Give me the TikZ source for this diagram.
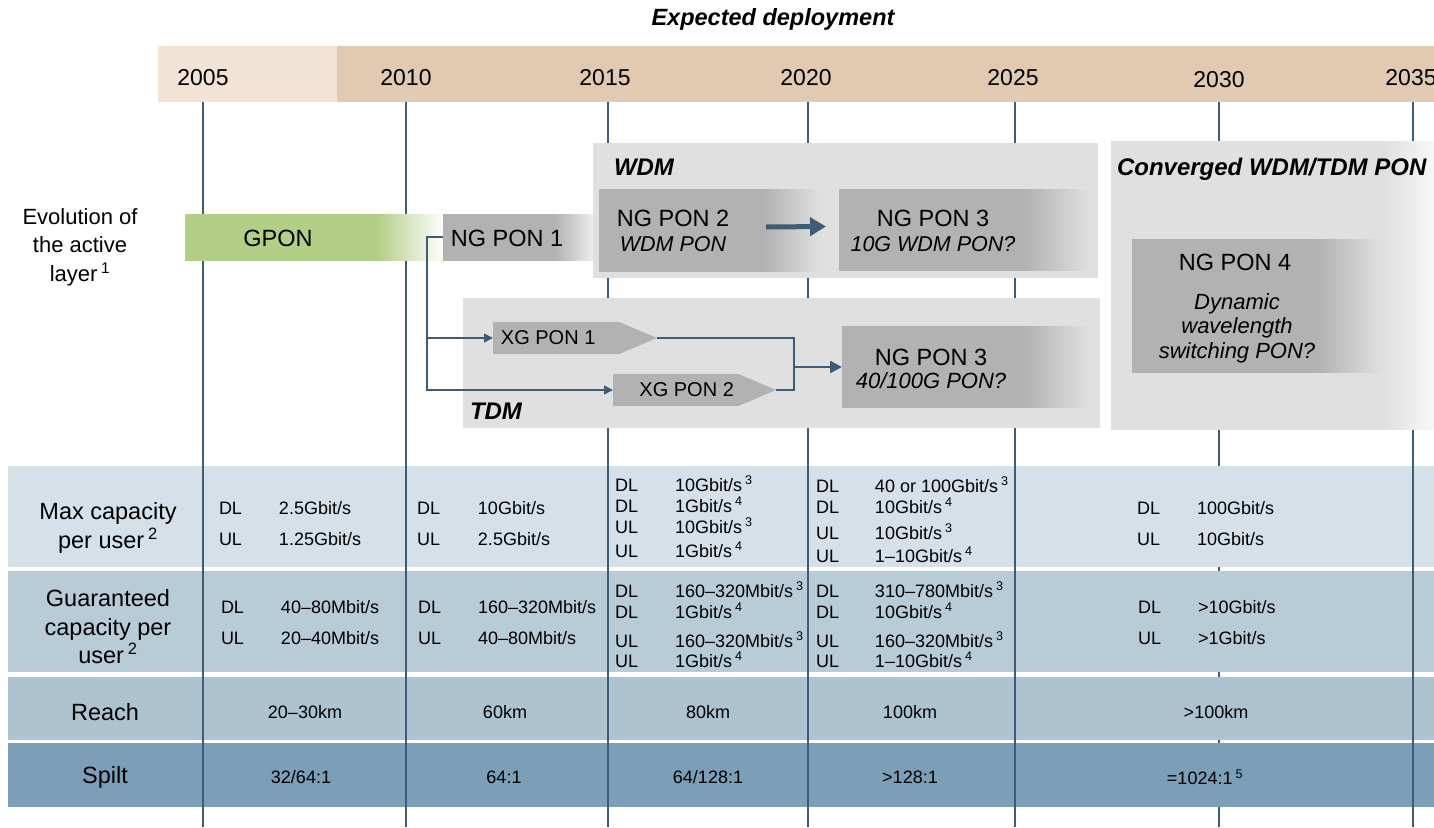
\documentclass[tikz,border=0pt]{standalone}
\usepackage{fontspec}
\setmainfont{Liberation Sans}
\usetikzlibrary{arrows.meta,shapes.symbols}
\definecolor{bandtan}{HTML}{E2C9B1}
\definecolor{bandlight}{HTML}{F1E4D7}
\definecolor{tickline}{HTML}{3E5C76}
\definecolor{panelgray}{HTML}{E0E0E0}
\definecolor{boxgray}{HTML}{B2B2B2}
\definecolor{gpongreen}{HTML}{B3CE85}
\definecolor{rowA}{HTML}{D5E0E8}
\definecolor{rowB}{HTML}{B8CCD8}
\definecolor{rowC}{HTML}{ADC3D0}
\definecolor{rowD}{HTML}{7C9FB7}
\colorlet{fadeL}{boxgray}
\colorlet{fadeR}{panelgray}
\pgfdeclarehorizontalshading[fadeL,fadeR]{fadebox}{100bp}{color(0bp)=(fadeL); color(25bp)=(fadeL); color(62bp)=(fadeL); color(75bp)=(fadeR); color(100bp)=(fadeR)}
\pgfdeclarehorizontalshading[fadeL,fadeR]{fadelong}{100bp}{color(0bp)=(fadeL); color(25bp)=(fadeL); color(67bp)=(fadeL); color(75bp)=(fadeR); color(100bp)=(fadeR)}
\tikzset{
  fadefill/.code 2 args={\colorlet{fadeL}{#1}\colorlet{fadeR}{#2}\pgfkeysalso{shading=fadebox}},
  fadefilllong/.code 2 args={\colorlet{fadeL}{#1}\colorlet{fadeR}{#2}\pgfkeysalso{shading=fadelong}}
}
\newcommand{\subit}{\fontsize{21.5}{25}\selectfont\itshape}

\begin{document}
\begin{tikzpicture}[x=1pt, y=-1pt,
  every node/.style={inner sep=0pt, outer sep=0pt},
  titlelbl/.style={font=\fontsize{23.5}{26}\selectfont\bfseries\itshape},
  yearlbl/.style={font=\fontsize{23}{26}\selectfont},
  rowlbl/.style={font=\fontsize{23.5}{28.5}\selectfont, align=center},
  boxlbl/.style={font=\fontsize{23.5}{25}\selectfont, align=center},
  panellbl/.style={font=\fontsize{24}{26}\selectfont\bfseries\itshape, anchor=west},
  rates/.style={font=\fontsize{18}{31}\selectfont, anchor=north west},
  rates4/.style={font=\fontsize{18}{20}\selectfont, anchor=north west},
  cellval/.style={font=\fontsize{18}{20}\selectfont},
  panel/.style={fill=panelgray, anchor=north west},
  tick/.style={draw=tickline, line width=2},
  xgshape/.style={signal, signal to=east, signal pointer angle=46, fill=boxgray, minimum height=32, anchor=west, font=\fontsize{20}{22}\selectfont},
  conn/.style={draw=tickline, line width=1.5, -{Triangle[length=9pt,width=9pt]}},
  link/.style={draw=tickline, line width=1.5},
  mergearrow/.style={draw=tickline, line width=2.5, -{Triangle[length=12pt,width=12pt]}},
  bigarrow/.style={draw=tickline, line width=5, -{Triangle[length=16pt,width=18pt]}}]
\useasboundingbox (0,0) rectangle (1434,827);

\node[titlelbl] (title) at (773,19) {Expected deployment};
\fill[bandlight] (158,46) rectangle (337,102);
\fill[bandtan] (337,46) rectangle (1434,102);
\node[yearlbl] (y2005) at (203,78) {2005};
\node[yearlbl] (y2010) at (406,78) {2010};
\node[yearlbl] (y2015) at (605,78) {2015};
\node[yearlbl] (y2020) at (806,78) {2020};
\node[yearlbl] (y2025) at (1013,78) {2025};
\node[yearlbl] (y2030) at (1219,80) {2030};
\node[yearlbl] (y2035) at (1411,78) {2035};

\draw[tick] (1219,102) -- (1219,827);
\fill[rowA] (8,466) rectangle (1434,567);
\fill[rowB] (8,571) rectangle (1434,672);
\fill[rowC] (8,677) rectangle (1434,740);
\fill[rowD] (8,743) rectangle (1434,807);
\draw[tick] (203,102) -- (203,827);
\draw[tick] (406,102) -- (406,827);
\draw[tick] (608,102) -- (608,827);
\draw[tick] (808,102) -- (808,827);
\draw[tick] (1015,102) -- (1015,827);
\draw[tick] (1413,102) -- (1413,827);

\node[rowlbl, font=\fontsize{22}{28.5}\selectfont] (evol) at (80,247) {Evolution of\\the active\\layer\,\textsuperscript{1}};
\node[fadefill={gpongreen}{white}, anchor=north west, minimum width=259, minimum height=46] (gpon) at (185,214) {};
\node[fadefill={boxgray}{panelgray!60!white}, anchor=north west, minimum width=150, minimum height=46] (ng1) at (443,214) {};
\node[boxlbl] (gpontxt) at (278,238) {GPON};
\node[boxlbl] (ng1txt) at (507,238) {NG PON 1};

\node[panel, minimum width=505, minimum height=135] (wdm) at (593,143) {};
\node[panellbl] (wdmtxt) at (614,167) {WDM};
\node[fadefill={boxgray}{panelgray}, anchor=north west, minimum width=222, minimum height=82] (ng2) at (599,189) {};
\node[fadefill={boxgray}{panelgray}, anchor=north west, minimum width=251, minimum height=81] (ng3w) at (839,189) {};
\node[boxlbl] (ng2txt) at (673,231) {NG PON 2\\\subit WDM PON};
\node[boxlbl] (ng3wtxt) at (933,231) {NG PON 3\\\subit 10G WDM PON?};

\node[panel, minimum width=637, minimum height=130] (tdm) at (463,298) {};
\node[panellbl] (tdmtxt) at (470,411) {TDM};
\node[xgshape, minimum width=164] (xg1) at (493,338) {\hspace*{-16pt}XG PON 1};
\node[xgshape, minimum width=163] (xg2) at (613,390) {XG PON 2\hspace*{-22pt}};
\node[fadefill={boxgray}{panelgray}, anchor=north west, minimum width=247, minimum height=81] (ng3t) at (842,326) {};
\node[boxlbl, font=\fontsize{23.5}{23}\selectfont] (ng3ttxt) at (931,369) {NG PON 3\\\fontsize{22}{23}\selectfont\itshape 40/100G PON?};

\node[fadefilllong={panelgray}{white!97!black}, anchor=north west, minimum width=323, minimum height=288] (conv) at (1111,141) {};
\node[panellbl] (convtxt) at (1117,169) {Converged WDM/TDM PON};
\node[fadefill={boxgray}{panelgray}, anchor=north west, minimum width=250, minimum height=133] (ng4) at (1132,239) {};
\node[boxlbl] (ng4txt) at (1235,262) {NG PON 4};
\node[boxlbl, font=\fontsize{22}{24.5}\selectfont\itshape] (ng4sub) at (1237,328) {Dynamic\\wavelength\\switching PON?};

\draw[bigarrow] ([xshift=-55pt,yshift=3pt]ng2.east) -- ([xshift=-13pt,yshift=3pt]ng3w.west);
\draw[conn] (ng1.west) -- ++(-16,0) coordinate (split) |- (xg1.west);
\draw[conn] (split) |- (xg2.west);
\coordinate (merge) at (794,367);
\draw[link] (xg1.east) -| (merge);
\draw[link] (xg2.east) -| (merge);
\draw[mergearrow] (merge) -- (ng3t.west |- merge);

\node[rowlbl] (maxcap) at (108,528) {Max capacity\\per user\,\textsuperscript{2}};
\node[rates] (mc1) at (219,493) {\begin{tabular}{@{}p{60pt}@{}l@{}}DL & 2.5Gbit/s\\UL & 1.25Gbit/s\end{tabular}};
\node[rates] (mc2) at (417,493) {\begin{tabular}{@{}p{61pt}@{}l@{}}DL & 10Gbit/s\\UL & 2.5Gbit/s\end{tabular}};
\node[rates4] (mc3) at (615,476) {\begin{tabular}{@{}p{60pt}@{}l@{}}DL & 10Gbit/s\,\textsuperscript{3}\\DL & 1Gbit/s\,\textsuperscript{4}\\UL & 10Gbit/s\,\textsuperscript{3}\\[3pt]UL & 1Gbit/s\,\textsuperscript{4}\end{tabular}};
\node[rates4] (mc4) at (816,477) {\begin{tabular}{@{}p{59pt}@{}l@{}}DL & 40 or 100Gbit/s\,\textsuperscript{3}\\DL & 10Gbit/s\,\textsuperscript{4}\\[5pt]UL & 10Gbit/s\,\textsuperscript{3}\\[2pt]UL & 1--10Gbit/s\,\textsuperscript{4}\end{tabular}};
\node[rates] (mc5) at (1137,493) {\begin{tabular}{@{}p{60pt}@{}l@{}}DL & 100Gbit/s\\UL & 10Gbit/s\end{tabular}};

\node[rowlbl] (guarcap) at (108,627) {Guaranteed\\capacity per\\user\,\textsuperscript{2}};
\node[rates] (gc1) at (221,592) {\begin{tabular}{@{}p{60pt}@{}l@{}}DL & 40--80Mbit/s\\UL & 20--40Mbit/s\end{tabular}};
\node[rates] (gc2) at (418,592) {\begin{tabular}{@{}p{60pt}@{}l@{}}DL & 160--320Mbit/s\\UL & 40--80Mbit/s\end{tabular}};
\node[rates4] (gc3) at (615,582) {\begin{tabular}{@{}p{60pt}@{}l@{}}DL & 160--320Mbit/s\,\textsuperscript{3}\\DL & 1Gbit/s\,\textsuperscript{4}\\[8pt]UL & 160--320Mbit/s\,\textsuperscript{3}\\[-1pt]UL & 1Gbit/s\,\textsuperscript{4}\end{tabular}};
\node[rates4] (gc4) at (816,582) {\begin{tabular}{@{}p{59pt}@{}l@{}}DL & 310--780Mbit/s\,\textsuperscript{3}\\DL & 10Gbit/s\,\textsuperscript{4}\\[8pt]UL & 160--320Mbit/s\,\textsuperscript{3}\\[-1pt]UL & 1--10Gbit/s\,\textsuperscript{4}\end{tabular}};
\node[rates] (gc5) at (1138,592) {\begin{tabular}{@{}p{60pt}@{}l@{}}DL & >10Gbit/s\\UL & >1Gbit/s\end{tabular}};

\node[rowlbl] (reach) at (105,712) {Reach};
\node[cellval] (rc1) at (305,712) {20--30km};
\node[cellval] (rc2) at (505,712) {60km};
\node[cellval] (rc3) at (708,712) {80km};
\node[cellval] (rc4) at (910,712) {100km};
\node[cellval] (rc5) at (1216,712) {>100km};

\node[rowlbl] (split) at (105,777) {Spilt};
\node[cellval] (sp1) at (301,777) {32/64:1};
\node[cellval] (sp2) at (504,777) {64:1};
\node[cellval] (sp3) at (708,777) {64/128:1};
\node[cellval] (sp4) at (910,777) {>128:1};
\node[cellval] (sp5) at (1205,777) {=1024:1\,\textsuperscript{5}};
\end{tikzpicture}
\end{document}
